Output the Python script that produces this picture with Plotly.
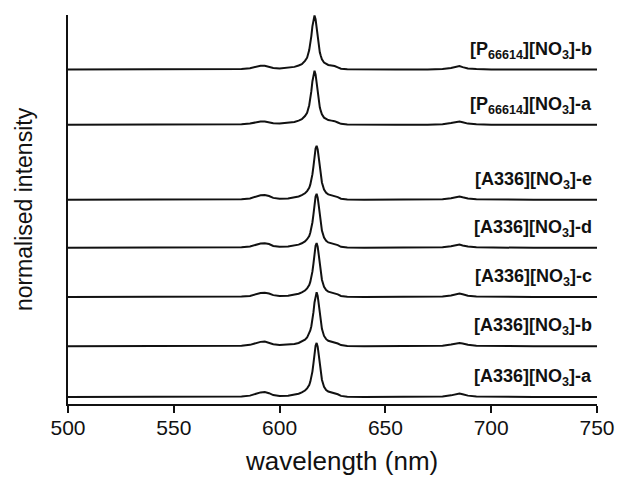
import plotly.graph_objects as go

# Emission spectra (normalised to the main peak) on a shared wavelength grid, nm
wavelength = [500, 520, 540, 560, 575, 582, 586, 589, 591, 593,
              595, 597, 600, 604, 607, 609, 610.5, 612, 613, 614,
              614.5, 615, 615.5, 616, 616.5, 617, 617.5, 618, 618.5, 619,
              619.5, 620, 621, 622, 623, 624.5, 626, 627.5, 629, 632,
              640, 655, 670, 677, 681, 683.5, 685, 686.5, 689, 693,
              700, 720, 750]

a336_a = [0.00, 0.00, 0.00, 0.00, 0.005, 0.01, 0.025, 0.06, 0.085, 0.09,
          0.07, 0.035, 0.02, 0.025, 0.04, 0.06, 0.085, 0.12, 0.16, 0.22,
          0.28, 0.36, 0.47, 0.62, 0.80, 0.95, 1.00, 0.93, 0.78, 0.60,
          0.44, 0.32, 0.19, 0.13, 0.10, 0.085, 0.075, 0.05, 0.02, 0.005,
          0.00, 0.00, 0.00, 0.01, 0.03, 0.055, 0.065, 0.05, 0.025, 0.01,
          0.005, 0.00, 0.00]

a336_b = [0.00, 0.00, 0.00, 0.00, 0.005, 0.01, 0.025, 0.055, 0.08, 0.085,
          0.065, 0.035, 0.02, 0.025, 0.04, 0.06, 0.085, 0.12, 0.16, 0.23,
          0.29, 0.37, 0.48, 0.63, 0.81, 0.95, 1.00, 0.93, 0.77, 0.59,
          0.44, 0.32, 0.19, 0.13, 0.10, 0.085, 0.07, 0.05, 0.02, 0.005,
          0.00, 0.00, 0.00, 0.01, 0.03, 0.055, 0.06, 0.05, 0.025, 0.01,
          0.005, 0.00, 0.00]

a336_c = [0.00, 0.00, 0.00, 0.00, 0.005, 0.01, 0.02, 0.05, 0.075, 0.08,
          0.065, 0.035, 0.02, 0.025, 0.04, 0.06, 0.085, 0.12, 0.16, 0.22,
          0.28, 0.36, 0.47, 0.62, 0.80, 0.95, 1.00, 0.93, 0.78, 0.60,
          0.44, 0.32, 0.19, 0.13, 0.10, 0.085, 0.075, 0.05, 0.02, 0.005,
          0.00, 0.00, 0.00, 0.01, 0.03, 0.055, 0.065, 0.05, 0.025, 0.01,
          0.005, 0.00, 0.00]

a336_d = [0.00, 0.00, 0.00, 0.00, 0.005, 0.01, 0.025, 0.055, 0.08, 0.085,
          0.07, 0.035, 0.02, 0.025, 0.04, 0.06, 0.085, 0.12, 0.16, 0.22,
          0.28, 0.36, 0.47, 0.62, 0.80, 0.95, 1.00, 0.93, 0.78, 0.60,
          0.44, 0.32, 0.19, 0.13, 0.10, 0.085, 0.075, 0.05, 0.02, 0.005,
          0.00, 0.00, 0.00, 0.01, 0.03, 0.05, 0.06, 0.045, 0.025, 0.01,
          0.005, 0.00, 0.00]

a336_e = [0.00, 0.00, 0.00, 0.00, 0.005, 0.01, 0.025, 0.06, 0.085, 0.09,
          0.07, 0.035, 0.02, 0.025, 0.04, 0.06, 0.085, 0.12, 0.16, 0.22,
          0.28, 0.36, 0.47, 0.62, 0.80, 0.95, 1.00, 0.93, 0.78, 0.60,
          0.44, 0.32, 0.19, 0.13, 0.10, 0.085, 0.075, 0.05, 0.02, 0.005,
          0.00, 0.00, 0.00, 0.01, 0.03, 0.05, 0.06, 0.045, 0.025, 0.01,
          0.005, 0.00, 0.00]

p66614_a = [0.00, 0.00, 0.00, 0.00, 0.005, 0.01, 0.02, 0.045, 0.06, 0.06,
            0.045, 0.025, 0.02, 0.03, 0.05, 0.075, 0.10, 0.16, 0.22, 0.36,
            0.47, 0.62, 0.80, 0.95, 1.00, 0.93, 0.78, 0.60, 0.44, 0.32,
            0.25, 0.19, 0.13, 0.10, 0.085, 0.075, 0.065, 0.04, 0.015, 0.005,
            0.00, 0.00, 0.00, 0.01, 0.03, 0.055, 0.06, 0.045, 0.02, 0.01,
            0.00, 0.00, 0.00]

p66614_b = [0.00, 0.00, 0.00, 0.00, 0.005, 0.01, 0.025, 0.05, 0.07, 0.07,
            0.05, 0.03, 0.02, 0.03, 0.05, 0.075, 0.10, 0.16, 0.22, 0.36,
            0.47, 0.62, 0.80, 0.95, 1.00, 0.93, 0.78, 0.60, 0.44, 0.32,
            0.25, 0.19, 0.13, 0.10, 0.085, 0.075, 0.065, 0.04, 0.015, 0.005,
            0.00, 0.00, 0.00, 0.01, 0.03, 0.055, 0.065, 0.045, 0.02, 0.01,
            0.00, 0.00, 0.00]

sample_labels = [
    "[A336][NO<sub>3</sub>]-a",
    "[A336][NO<sub>3</sub>]-b",
    "[A336][NO<sub>3</sub>]-c",
    "[A336][NO<sub>3</sub>]-d",
    "[A336][NO<sub>3</sub>]-e",
    "[P<sub>66614</sub>][NO<sub>3</sub>]-a",
    "[P<sub>66614</sub>][NO<sub>3</sub>]-b",
]
spectra = [a336_a, a336_b, a336_c, a336_d, a336_e, p66614_a, p66614_b]

# vertical stacking of the spectra, in units of one normalised peak height
stack_offsets = [0.13, 1.07, 1.98, 2.89, 3.78, 5.17, 6.19]

x_ticks = [500, 550, 600, 650, 700, 750]

INK = "#111111"
SANS = "Liberation Sans, Arial, sans-serif"

fig = go.Figure()
for label, values, offset in zip(sample_labels, spectra, stack_offsets):
    fig.add_trace(go.Scatter(
        x=wavelength,
        y=[v + offset for v in values],
        mode="lines",
        line=dict(color=INK, width=2),
        name=label,
        showlegend=False,
        hoverinfo="skip",
    ))
    fig.add_annotation(
        x=750, y=offset + 0.36, xref="x", yref="y",
        text=label, showarrow=False,
        xanchor="right", yanchor="middle", xshift=-3,
        font=dict(family=SANS, size=18, color=INK, weight="bold"),
    )

# x-axis title, set slightly right of the plot centre
fig.add_annotation(
    x=0.5, y=-0.1465, xref="paper", yref="paper",
    text="wavelength (nm)", showarrow=False,
    xanchor="center", yanchor="middle", xshift=9,
    font=dict(family=SANS, size=26, color=INK),
)

fig.update_layout(
    width=617, height=477,
    margin=dict(l=68, r=20, t=15, b=73, autoexpand=False),
    paper_bgcolor="white", plot_bgcolor="white",
    font=dict(family=SANS, color=INK),
    xaxis=dict(
        range=[500, 750], tickvals=x_ticks,
        showline=True, linewidth=2, linecolor=INK,
        ticks="outside", ticklen=7, tickwidth=1.5, tickcolor=INK,
        ticklabelstandoff=-3,
        showgrid=False, zeroline=False, automargin=False,
        tickfont=dict(family=SANS, size=21, color=INK),
    ),
    yaxis=dict(
        range=[0, 7.2],
        showline=True, linewidth=2, linecolor=INK,
        ticks="", showticklabels=False,
        showgrid=False, zeroline=False, automargin=False,
        title=dict(text="normalised intensity", font=dict(family=SANS, size=23, color=INK), standoff=27),
    ),
)

fig.write_html("out.html")
